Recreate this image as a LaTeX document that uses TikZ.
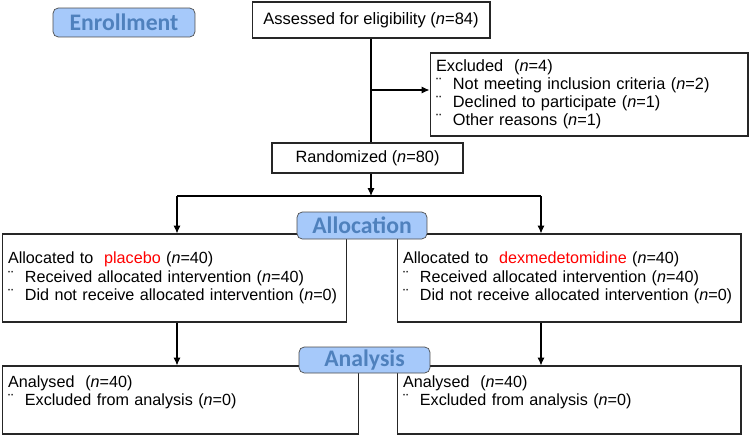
\documentclass[tikz,border=0pt]{standalone}
\usepackage{fontspec}
\setmainfont{Liberation Sans}
\newfontfamily\headfont{Carlito}
\usepackage{xcolor}
\usepackage{tikz}
\usetikzlibrary{positioning,calc,arrows.meta}

\definecolor{headfill}{RGB}{166,201,250}
\definecolor{headtext}{RGB}{79,129,189}
\newcommand{\itm}{\makebox[9.6pt][l]{¨}}
\newcommand{\nn}{\textit{n}}

\begin{document}
\begin{tikzpicture}[x=0.02cm, y=-0.02cm,
    box/.style={draw=black!85, line width=0.6pt, inner xsep=0.12cm, inner ysep=0pt,
                font=\fontsize{9.2}{10.5}\selectfont},
    stage/.style={draw=black!70, fill=headfill, rounded corners=3pt, text=headtext,
                  inner sep=0pt, font=\headfont\bfseries\fontsize{13.5}{14}\selectfont},
    line/.style={draw, line width=0.6pt},
    arr/.style={line, -{Latex[length=4.5pt,width=4pt]}}]
    \useasboundingbox (0,0) rectangle (750,436);

    % Enrollment
    \node[stage, minimum width=2.84cm, minimum height=0.58cm] (enroll) at (124,22.5) {Enrollment};
    \node[box, minimum width=4.76cm, minimum height=0.72cm, font=\fontsize{9.4}{11}\selectfont] (assess) at (371,20)
        {Assessed for eligibility (\nn=84)};
    \node[box, minimum width=6.36cm, minimum height=1.66cm, text width=6.12cm, align=left,
          font=\fontsize{9.3}{10.3}\selectfont] (excl) at (589,94.5)
        {Excluded\ \ (\nn=4)\\
         \itm Not meeting inclusion criteria (\nn=2)\\
         \itm Declined to participate (\nn=1)\\
         \itm Other reasons (\nn=1)};
    \node[box, minimum width=3.82cm, minimum height=0.6cm, font=\fontsize{9.3}{10.3}\selectfont] (rand) at (367.5,158)
        {Randomized (\nn=80)};

    % Allocation
    \node[box, minimum width=6.9cm, minimum height=1.76cm, text width=6.66cm, align=left] (pla) at (174.5,278)
        {Allocated to\ \ \textcolor{red}{placebo} (\nn=40)\\
         \itm Received allocated intervention (\nn=40)\\
         \itm Did not receive allocated intervention (\nn=0)};
    \node[box, minimum width=6.88cm, minimum height=1.76cm, text width=6.64cm, align=left] (dex) at (569,278)
        {Allocated to\ \ \textcolor{red}{dexmedetomidine} (\nn=40)\\
         \itm Received allocated intervention (\nn=40)\\
         \itm Did not receive allocated intervention (\nn=0)};

    % Analysis
    \node[box, minimum width=7.14cm, minimum height=1.36cm, text width=6.9cm, align=left] (anl) at (180.5,400)
        {Analysed\ \ (\nn=40)\\
         \itm Excluded from analysis (\nn=0)\\ \mbox{}};
    \node[box, minimum width=6.88cm, minimum height=1.36cm, text width=6.64cm, align=left] (anr) at (569,400)
        {Analysed\ \ (\nn=40)\\
         \itm Excluded from analysis (\nn=0)\\ \mbox{}};

    % Connectors
    \coordinate (exc) at (371,90);
    \coordinate (split) at (371,196);
    \coordinate (lsplit) at (177,196);
    \coordinate (rsplit) at (541,196);
    \draw[line] (assess.south) -- (assess.south |- rand.north);
    \draw[arr] (exc) -- (exc -| excl.west);
    \draw[arr] (assess.south |- rand.south) -- (split);
    \draw[line] (lsplit) -- (rsplit);
    \draw[arr] (lsplit) -- (lsplit |- pla.north);
    \draw[arr] (rsplit) -- (rsplit |- dex.north);
    \draw[arr] (lsplit |- pla.south) -- (lsplit |- anl.north);
    \draw[arr] (rsplit |- dex.south) -- (rsplit |- anr.north);

    % Stage labels on top
    \node[stage, minimum width=2.6cm, minimum height=0.54cm] (alloc) at (362,225.5) {Allocation};
    \node[stage, minimum width=2.62cm, minimum height=0.52cm] (analysis) at (364.5,360) {Analysis};
\end{tikzpicture}
\end{document}
